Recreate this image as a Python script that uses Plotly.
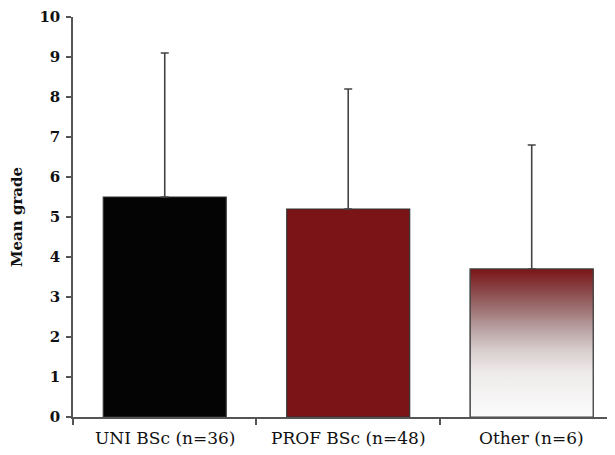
import plotly.graph_objects as go

categories = ["UNI BSc (n=36)", "PROF BSc (n=48)", "Other (n=6)"]
means = [5.5, 5.2, 3.7]
sd_upper = [3.6, 3.0, 3.1]
y_ticks = [0, 1, 2, 3, 4, 5, 6, 7, 8, 9, 10]

bar_colors = ["#040404", "#7b1416", "rgba(0,0,0,0)"]
bar_width = 0.67
pos = list(range(len(categories)))

fig = go.Figure()

fig.add_trace(go.Bar(
    x=pos, y=means, width=bar_width,
    marker=dict(color=bar_colors, line=dict(color="#333333", width=1.2)),
    error_y=dict(type="data", symmetric=False, array=sd_upper,
                 arrayminus=[0] * len(means), color="#444444",
                 thickness=1.6, width=4),
    showlegend=False, hoverinfo="skip",
))

gi = 2
x0 = pos[gi] - bar_width / 2
x1 = pos[gi] + bar_width / 2
fig.add_trace(go.Scatter(
    x=[x0, x1, x1, x0, x0], y=[0, 0, means[gi], means[gi], 0],
    mode="lines", fill="toself",
    fillgradient=dict(type="vertical",
                      colorscale=[[0, "#fcfcfc"], [0.3, "#eeeaea"],
                                  [0.45, "#d8cdcd"], [0.6, "#b8a0a0"],
                                  [0.75, "#9a6a6b"], [0.87, "#884244"],
                                  [1, "#7b1416"]]),
    line=dict(color="#444444", width=1.2),
    showlegend=False, hoverinfo="skip",
))

for i, c in enumerate(categories):
    fig.add_annotation(x=pos[i], xref="x", y=-0.052, yref="paper",
                       text=c, showarrow=False, yanchor="middle",
                       font=dict(family="DejaVu Serif", size=17, color="#111111"))

fig.update_layout(
    width=607, height=447,
    margin=dict(l=65, r=0, t=9, b=38),
    plot_bgcolor="white", paper_bgcolor="white",
    xaxis=dict(range=[-0.5, 2.454], showgrid=False, zeroline=False,
               showline=True, linecolor="#555555", linewidth=1.5,
               tickvals=[-0.5, 0.5, 1.5, 2.5], ticktext=["", "", "", ""],
               ticks="outside", ticklen=6, tickcolor="#555555", tickwidth=1.5),
    yaxis=dict(range=[0, 10], tickvals=y_ticks, showgrid=False, zeroline=False,
               showline=True, linecolor="#555555", linewidth=1.5,
               ticks="outside", ticklen=5, tickcolor="#555555", tickwidth=1.5,
               ticklabelstandoff=3,
               tickfont=dict(family="DejaVu Serif", size=15, color="#111111",
                             weight="bold"),
               title=dict(text="<b>Mean grade</b>", standoff=14,
                          font=dict(family="DejaVu Serif", size=15, color="#111111"))),
)

fig.write_html("out.html")
